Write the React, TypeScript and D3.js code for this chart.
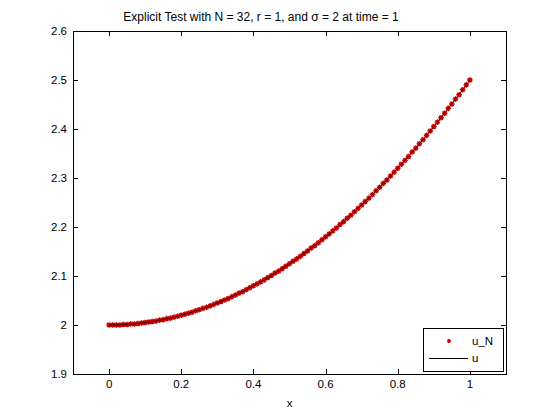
import React, { useEffect, useRef } from 'react';
import * as d3 from 'd3';

// grid points along x
const xs = [
  0, 0.01, 0.02, 0.03, 0.04, 0.05, 0.06, 0.07, 0.08, 0.09,
  0.1, 0.11, 0.12, 0.13, 0.14, 0.15, 0.16, 0.17, 0.18, 0.19,
  0.2, 0.21, 0.22, 0.23, 0.24, 0.25, 0.26, 0.27, 0.28, 0.29,
  0.3, 0.31, 0.32, 0.33, 0.34, 0.35, 0.36, 0.37, 0.38, 0.39,
  0.4, 0.41, 0.42, 0.43, 0.44, 0.45, 0.46, 0.47, 0.48, 0.49,
  0.5, 0.51, 0.52, 0.53, 0.54, 0.55, 0.56, 0.57, 0.58, 0.59,
  0.6, 0.61, 0.62, 0.63, 0.64, 0.65, 0.66, 0.67, 0.68, 0.69,
  0.7, 0.71, 0.72, 0.73, 0.74, 0.75, 0.76, 0.77, 0.78, 0.79,
  0.8, 0.81, 0.82, 0.83, 0.84, 0.85, 0.86, 0.87, 0.88, 0.89,
  0.9, 0.91, 0.92, 0.93, 0.94, 0.95, 0.96, 0.97, 0.98, 0.99,
  1,
];

// numerical solution u_N
const uN = [
  2.0, 2.0, 2.0, 2.0, 2.001, 2.001, 2.002, 2.002, 2.003, 2.004,
  2.005, 2.006, 2.007, 2.008, 2.01, 2.011, 2.013, 2.014, 2.016, 2.018,
  2.02, 2.022, 2.024, 2.026, 2.029, 2.031, 2.034, 2.036, 2.039, 2.042,
  2.045, 2.048, 2.051, 2.054, 2.058, 2.061, 2.065, 2.068, 2.072, 2.076,
  2.08, 2.084, 2.088, 2.092, 2.097, 2.101, 2.106, 2.11, 2.115, 2.12,
  2.125, 2.13, 2.135, 2.14, 2.146, 2.151, 2.157, 2.162, 2.168, 2.174,
  2.18, 2.186, 2.192, 2.198, 2.205, 2.211, 2.218, 2.224, 2.231, 2.238,
  2.245, 2.252, 2.259, 2.266, 2.274, 2.281, 2.289, 2.296, 2.304, 2.312,
  2.32, 2.328, 2.336, 2.344, 2.353, 2.361, 2.37, 2.378, 2.387, 2.396,
  2.405, 2.414, 2.423, 2.432, 2.442, 2.451, 2.461, 2.47, 2.48, 2.49,
  2.5,
];

// exact solution u (same grid)
const uExact = uN.slice();

const xTicks = [0, 0.2, 0.4, 0.6, 0.8, 1];
const yTicks = [1.9, 2, 2.1, 2.2, 2.3, 2.4, 2.5, 2.6];

const title = 'Explicit Test with N = 32, r = 1, and \u03c3 = 2 at time = 1';

export default function App() {
  const svgRef = useRef<SVGSVGElement>(null);

  useEffect(() => {
    const W = 560;
    const H = 420;
    const left = 73, right = 506, top = 31, bottom = 374;
    const font = '"Liberation Sans", Arial, sans-serif';
    const fs = 11.5;

    const svg = d3.select(svgRef.current).attr('width', W).attr('height', H);
    svg.selectAll('*').remove();
    svg.append('rect').attr('width', W).attr('height', H).attr('fill', '#fff');

    const x = d3.scaleLinear().domain([-0.1, 1.1]).range([left, right]);
    const y = d3.scaleLinear().domain([1.9, 2.6]).range([bottom, top]);

    const g = svg.append('g');
    const tl = 5;

    // ticks
    xTicks.forEach((t) => {
      const px = Math.round(x(t)) + 0.5;
      g.append('line').attr('x1', px).attr('x2', px).attr('y1', bottom).attr('y2', bottom - tl).attr('stroke', '#000');
      g.append('line').attr('x1', px).attr('x2', px).attr('y1', top).attr('y2', top + tl).attr('stroke', '#000');
      g.append('text')
        .attr('x', x(t))
        .attr('y', bottom + 14)
        .attr('text-anchor', 'middle')
        .attr('font-family', font)
        .attr('font-size', fs)
        .text(String(t));
    });
    yTicks.forEach((t) => {
      const py = Math.round(y(t)) + 0.5;
      g.append('line').attr('x1', left).attr('x2', left + tl).attr('y1', py).attr('y2', py).attr('stroke', '#000');
      g.append('line').attr('x1', right).attr('x2', right - tl).attr('y1', py).attr('y2', py).attr('stroke', '#000');
      g.append('text')
        .attr('x', left - 6)
        .attr('y', y(t) + 4)
        .attr('text-anchor', 'end')
        .attr('font-family', font)
        .attr('font-size', fs)
        .text(String(t));
    });

    // axes box
    g.append('rect')
      .attr('x', left + 0.5)
      .attr('y', top + 0.5)
      .attr('width', right - left)
      .attr('height', bottom - top)
      .attr('fill', 'none')
      .attr('stroke', '#000');

    const red = '#cc0000';
    const star = (sel: any, cx: number, cy: number, s: number, w: number) => {
      sel.append('path')
        .attr('d', `M${cx - s},${cy}H${cx + s}M${cx},${cy - s}V${cy + s}M${cx - s * 0.7},${cy - s * 0.7}L${cx + s * 0.7},${cy + s * 0.7}M${cx - s * 0.7},${cy + s * 0.7}L${cx + s * 0.7},${cy - s * 0.7}`)
        .attr('stroke', red)
        .attr('stroke-width', w)
        .attr('fill', 'none');
    };

    // u_N markers
    const mk = svg.append('g');
    xs.forEach((xv, i) => star(mk, x(xv), y(uN[i]), 2.8, 1.4));

    // exact line
    const line = d3.line<number>()
      .x((_, i) => x(xs[i]))
      .y((d) => y(d));
    svg.append('path')
      .datum(uExact)
      .attr('d', line)
      .attr('fill', 'none')
      .attr('stroke', '#3a0000')
      .attr('stroke-width', 0.8);

    // legend
    const lg = svg.append('g');
    lg.append('rect')
      .attr('x', 423.5).attr('y', 328.5).attr('width', 80).attr('height', 43)
      .attr('fill', '#fff').attr('stroke', '#000');
    star(lg, 449, 341, 2, 1.2);
    lg.append('text').attr('x', 472).attr('y', 345).attr('font-family', font).attr('font-size', fs).text('u_N');
    lg.append('line').attr('x1', 429).attr('x2', 468).attr('y1', 358.5).attr('y2', 358.5).attr('stroke', '#000');
    lg.append('text').attr('x', 472).attr('y', 362).attr('font-family', font).attr('font-size', fs).text('u');

    // title and label
    svg.append('text')
      .attr('x', 261).attr('y', 21)
      .attr('text-anchor', 'middle')
      .attr('font-family', font).attr('font-size', 12)
      .text(title);
    svg.append('text')
      .attr('x', (left + right) / 2).attr('y', 407)
      .attr('text-anchor', 'middle')
      .attr('font-family', font).attr('font-size', fs)
      .text('x');
  }, []);

  return <svg ref={svgRef} style={{ position: 'absolute', left: 0, top: 0 }}></svg>;
}
